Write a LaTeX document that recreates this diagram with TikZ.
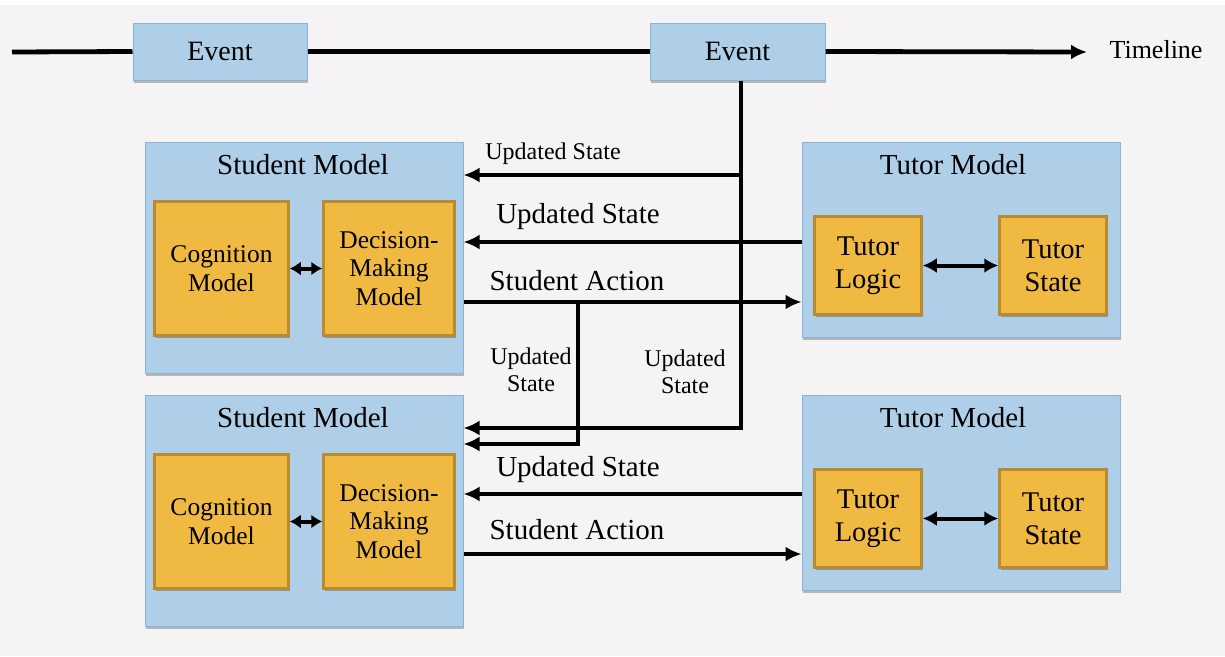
\documentclass[tikz,border=0pt]{standalone}
\usepackage{fontspec}
\setmainfont{Liberation Serif}
\usetikzlibrary{arrows.meta,shadows}

\definecolor{bgcol}{RGB}{245,243,244}
\definecolor{modelfill}{RGB}{175,206,232}
\definecolor{modeledge}{RGB}{135,180,220}
\definecolor{partfill}{RGB}{240,185,66}
\definecolor{partedge}{RGB}{184,138,50}

\tikzset{
  softshadow/.style={drop shadow={shadow xshift=1pt,shadow yshift=-2.5pt,opacity=0.25,fill=black}},
  eventbox/.style={draw=modeledge,fill=modelfill,line width=1pt,minimum width=174pt,minimum height=57pt,
    inner sep=0pt,softshadow,font=\fontsize{28}{32}\selectfont},
  modelbox/.style={draw=modeledge,fill=modelfill,line width=1pt,minimum width=318pt,inner sep=0pt,softshadow},
  partbox/.style={draw=partedge,fill=partfill,line width=2.5pt,inner sep=0pt,align=center,softshadow},
  studentpart/.style={partbox,minimum width=134pt,minimum height=134pt,font=\fontsize{25.5}{28.5}\selectfont},
  tutorpart/.style={partbox,minimum width=107pt,minimum height=98pt,font=\fontsize{28.5}{33}\selectfont},
  titletext/.style={font=\fontsize{29}{32}\selectfont},
  flowlabel/.style={font=\fontsize{29}{32}\selectfont},
  smalllabel/.style={font=\fontsize{24}{27}\selectfont,align=center},
  flow/.style={line width=4.8pt,-{Latex[length=16pt,width=15pt]}},
  plainline/.style={line width=4.8pt},
  twoway/.style={line width=4pt,{Latex[length=11pt,width=14pt]}-{Latex[length=11pt,width=14pt]}},
  tutorway/.style={line width=4pt,{Latex[length=14pt,width=15pt]}-{Latex[length=14pt,width=15pt]}},
}

\begin{document}
\begin{tikzpicture}[x=1pt,y=-1pt]
  % canvas
  \fill[white] (0,0) rectangle (1225,656);
  \fill[bgcol] (0,5) rectangle (1225,656);
  \useasboundingbox (0,0) rectangle (1225,656);

  % timeline with events
  \node[eventbox] (E1) at (220,51.5) {Event};
  \node[eventbox,minimum width=175pt] (E2) at (737.5,51.5) {Event};
  \coordinate (tstart) at (12,52);
  \coordinate (tend) at (1087,52);
  \node[anchor=west,font=\fontsize{26}{30}\selectfont] (tl) at (1106,50) {Timeline};
  \draw[plainline] (tstart) -- (E1.west);
  \draw[plainline] (E1.east) -- (E2.west);
  \draw[flow] (E2.east) -- (tend);

  % student models
  \node[modelbox,minimum height=231pt] (SM1) at (304,257.5) {};
  \node[titletext] (SM1t) at (303,165) {Student Model};
  \node[studentpart] (C1) at (221.5,268.5) {Cognition\\Model};
  \node[studentpart,minimum width=131pt] (D1) at (389,268.5) {Decision-\\Making\\Model};

  \node[modelbox,minimum height=231pt] (SM2) at (304,511) {};
  \node[titletext] (SM2t) at (303,418) {Student Model};
  \node[studentpart] (C2) at (221.5,521.5) {Cognition\\Model};
  \node[studentpart,minimum width=131pt] (D2) at (389,521.5) {Decision-\\Making\\Model};

  % tutor models
  \node[modelbox,minimum height=195pt] (TM1) at (961,239.5) {};
  \node[titletext] (TM1t) at (953,165) {Tutor Model};
  \node[tutorpart] (TL1) at (868,265.5) {Tutor\\Logic};
  \node[tutorpart] (TS1) at (1053,265.5) {Tutor\\State};

  \node[modelbox,minimum height=195pt] (TM2) at (961,492.5) {};
  \node[titletext] (TM2t) at (953,418) {Tutor Model};
  \node[tutorpart] (TL2) at (868,518.5) {Tutor\\Logic};
  \node[tutorpart] (TS2) at (1053,518.5) {Tutor\\State};

  % internal links
  \draw[twoway] (C1) -- (D1);
  \draw[twoway] (C2) -- (D2);
  \draw[tutorway] (TL1) -- (TS1);
  \draw[tutorway] (TL2) -- (TS2);

  % routing points
  \coordinate (tap) at (741,175);
  \coordinate (trunk) at (741,428);
  \coordinate (us1) at (0,242);
  \coordinate (sa1) at (0,302);
  \coordinate (branch) at (578,444);
  \coordinate (us2) at (0,494);
  \coordinate (sa2) at (0,554);

  % state broadcast from the event
  \draw[plainline] (E2.south -| tap) -- (tap);
  \draw[flow] (tap) -- (SM1.east |- tap);
  \draw[flow] (tap) -- (trunk) -- (SM2.east |- trunk);

  % first pair
  \draw[flow] (TM1.west |- us1) -- (SM1.east |- us1);
  \draw[flow] (SM1.east |- sa1) -- (TM1.west |- sa1);
  \draw[flow] (branch |- sa1) -- (branch) -- (SM2.east |- branch);

  % second pair
  \draw[flow] (TM2.west |- us2) -- (SM2.east |- us2);
  \draw[flow] (SM2.east |- sa2) -- (TM2.west |- sa2);

  % labels
  \node[smalllabel] (l1) at (553,154) {Updated State};
  \node[flowlabel] (l2) at (578,217) {Updated State};
  \node[flowlabel] (l3) at (577,281) {Student Action};
  \node[smalllabel] (l4) at (531,370) {Updated\\State};
  \node[smalllabel] (l5) at (685,372) {Updated\\State};
  \node[flowlabel] (l6) at (578,470) {Updated State};
  \node[flowlabel] (l7) at (577,530) {Student Action};
\end{tikzpicture}
\end{document}
